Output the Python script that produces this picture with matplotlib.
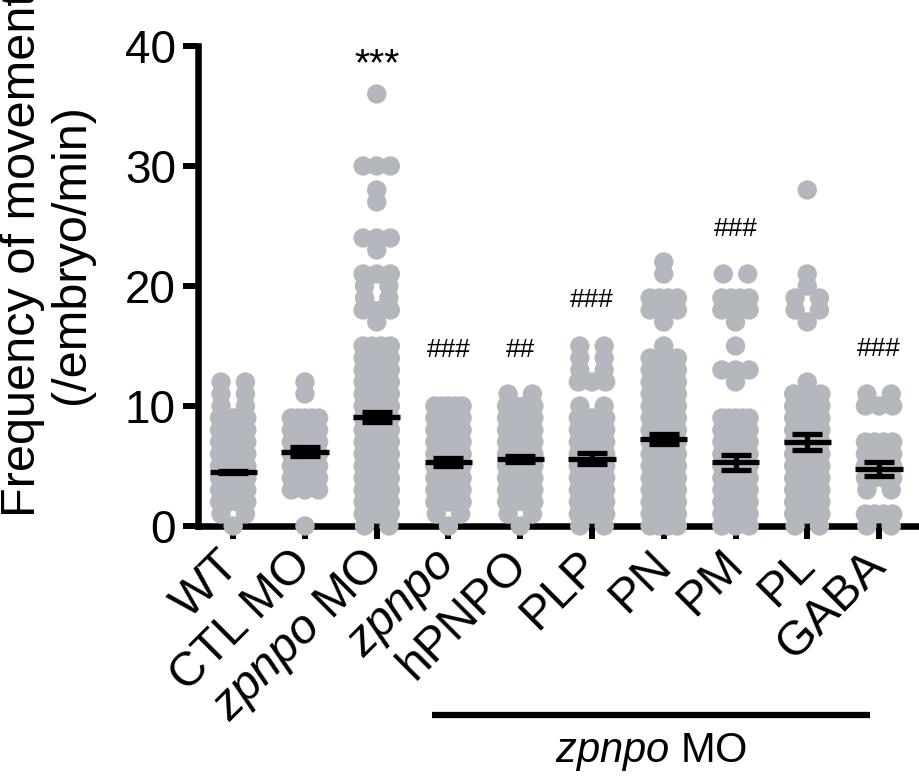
import numpy as np
import matplotlib
matplotlib.use('Agg')
import matplotlib.pyplot as plt
import matplotlib.transforms as mtransforms

plt.rcParams['font.family'] = ['Liberation Sans', 'DejaVu Sans']
plt.rcParams['mathtext.fontset'] = 'custom'
plt.rcParams['mathtext.rm'] = 'Liberation Sans'
plt.rcParams['mathtext.it'] = 'Liberation Sans:italic'

# groups on the x axis
groups = ['WT', 'CTL MO', r'$\it{zpnpo}$ MO', r'$\it{zpnpo}$', 'hPNPO',
          'PLP', 'PN', 'PM', 'PL', 'GABA']

# movements per minute: value levels and how many embryos sit on each level
wt_levels = [0, 1, 2, 3, 4, 5, 6, 7, 8, 9, 10, 11, 12]
wt_counts = [1, 2, 4, 6, 8, 8, 7, 6, 6, 5, 2, 2, 2]

ctl_levels = [0, 3, 4, 5, 6, 7, 8, 9, 11, 12]
ctl_counts = [1, 3, 5, 6, 5, 4, 4, 5, 1, 1]

mo_levels = [0, 1, 2, 3, 4, 5, 6, 7, 8, 9, 10, 11, 12, 13, 14, 15,
             17, 18, 19, 20, 21, 23, 24, 27, 28, 30, 36]
mo_counts = [2, 3, 3, 5, 6, 6, 6, 6, 6, 6, 6, 5, 5, 5, 4, 4,
             1, 4, 2, 2, 3, 1, 3, 1, 1, 3, 1]

zp_levels = [0, 1, 2, 3, 4, 5, 6, 7, 8, 9, 10]
zp_counts = [1, 2, 3, 4, 5, 6, 6, 6, 5, 5, 5]

hp_levels = [0, 1, 2, 3, 4, 5, 6, 7, 8, 9, 10, 11]
hp_counts = [1, 2, 4, 5, 5, 5, 5, 5, 4, 4, 4, 2]

plp_levels = [0, 1, 2, 3, 4, 5, 6, 7, 8, 9, 10, 12, 13, 14, 15]
plp_counts = [2, 3, 5, 5, 5, 5, 5, 4, 4, 3, 2, 3, 2, 2, 2]

pn_levels = [0, 1, 2, 3, 4, 5, 6, 7, 8, 9, 10, 11, 12, 13, 14, 15,
             17, 18, 19, 21, 22]
pn_counts = [4, 5, 5, 5, 5, 6, 6, 6, 5, 4, 3, 3, 4, 4, 4, 1,
             1, 3, 4, 1, 1]

pm_levels = [0, 1, 2, 3, 4, 5, 6, 7, 8, 9, 12, 13, 15, 17, 18, 19, 21]
pm_counts = [3, 3, 3, 4, 4, 5, 5, 3, 5, 5, 1, 3, 1, 1, 3, 4, 2]

pl_levels = [0, 1, 2, 3, 4, 5, 6, 7, 8, 9, 10, 11, 12, 17, 18, 19, 20, 21, 28]
pl_counts = [2, 3, 5, 5, 5, 5, 5, 5, 5, 3, 3, 4, 1, 1, 2, 2, 1, 1, 1]

gaba_levels = [0, 1, 3, 4, 5, 6, 7, 10, 11]
gaba_counts = [2, 4, 2, 4, 5, 4, 4, 3, 2]

levels = [wt_levels, ctl_levels, mo_levels, zp_levels, hp_levels,
          plp_levels, pn_levels, pm_levels, pl_levels, gaba_levels]
counts = [wt_counts, ctl_counts, mo_counts, zp_counts, hp_counts,
          plp_counts, pn_counts, pm_counts, pl_counts, gaba_counts]

# mean +/- SEM
means = [4.5, 6.2, 9.1, 5.3, 5.6, 5.6, 7.25, 5.3, 7.0, 4.75]
sems = [0.12, 0.37, 0.42, 0.33, 0.25, 0.45, 0.42, 0.6, 0.67, 0.55]

# significance marks
sig_text = ['', '', '***', '###', '##', '###', '', '###', '', '###']
sig_y = [0, 0, 38.4, 14.7, 14.7, 18.8, 0, 24.75, 0, 14.75]

dot_color = '#b4b8be'


def row_offsets(n):
    # spread embryos with equal values side by side (prism style)
    if n == 1:
        return [0.0]
    if n == 2:
        return [-0.17, 0.17]
    return list(np.linspace(-0.19, 0.19, n))


fig = plt.figure(figsize=(9.19, 7.82), dpi=100)
ax = fig.add_axes([0.2155, 0.3274, 0.7824, 0.6138])

for i, (lv, ct) in enumerate(zip(levels, counts)):
    xs, ys = [], []
    for v, n in zip(lv, ct):
        for off in row_offsets(n):
            xs.append(i + off)
            ys.append(v)
    ax.scatter(xs, ys, s=195, color=dot_color, edgecolors='none',
               zorder=3, clip_on=False)

x = np.arange(len(groups))
ax.hlines(means, x - 0.33, x + 0.33, color='black', lw=3.8, zorder=5)
ax.errorbar(x, means, yerr=sems, fmt='none', ecolor='black',
            elinewidth=3.8, capsize=10.8, capthick=3.8, zorder=5)

for i, (t, yv) in enumerate(zip(sig_text, sig_y)):
    if not t:
        continue
    size = 28 if t.startswith('*') else 19
    ax.text(i, yv, t, ha='center', va='center', fontsize=size,
            clip_on=False)

ax.set_xlim(-0.49, 9.53)
ax.set_ylim(0, 40)
ax.set_yticks([0, 10, 20, 30, 40])
ax.set_xticks(x)
ax.set_xticklabels(groups, rotation=45, ha='right', va='center',
                   rotation_mode='anchor')

for side in ['top', 'right']:
    ax.spines[side].set_visible(False)
for side in ['left', 'bottom']:
    ax.spines[side].set_linewidth(4.7)

ax.tick_params(axis='y', labelsize=33, length=11, width=4.3, pad=5)
ax.tick_params(axis='x', labelsize=34.5, length=9, width=4.3, pad=14)

fig.text(0.051, 0.675, 'Frequency of movement\n(/embryo/min)', rotation=90,
         ha='center', va='center', multialignment='center', fontsize=35,
         linespacing=1.1)

# bracket under the rescue groups
trans = mtransforms.blended_transform_factory(ax.transData, ax.transAxes)
ax.plot([2.77, 8.87], [-0.394, -0.394], color='black', lw=4.5,
        transform=trans, clip_on=False, solid_capstyle='butt')
ax.text(5.82, -0.47, r'$\it{zpnpo}$ MO', transform=trans, ha='center',
        va='center', fontsize=30)

fig.savefig('out.png', dpi=100)
